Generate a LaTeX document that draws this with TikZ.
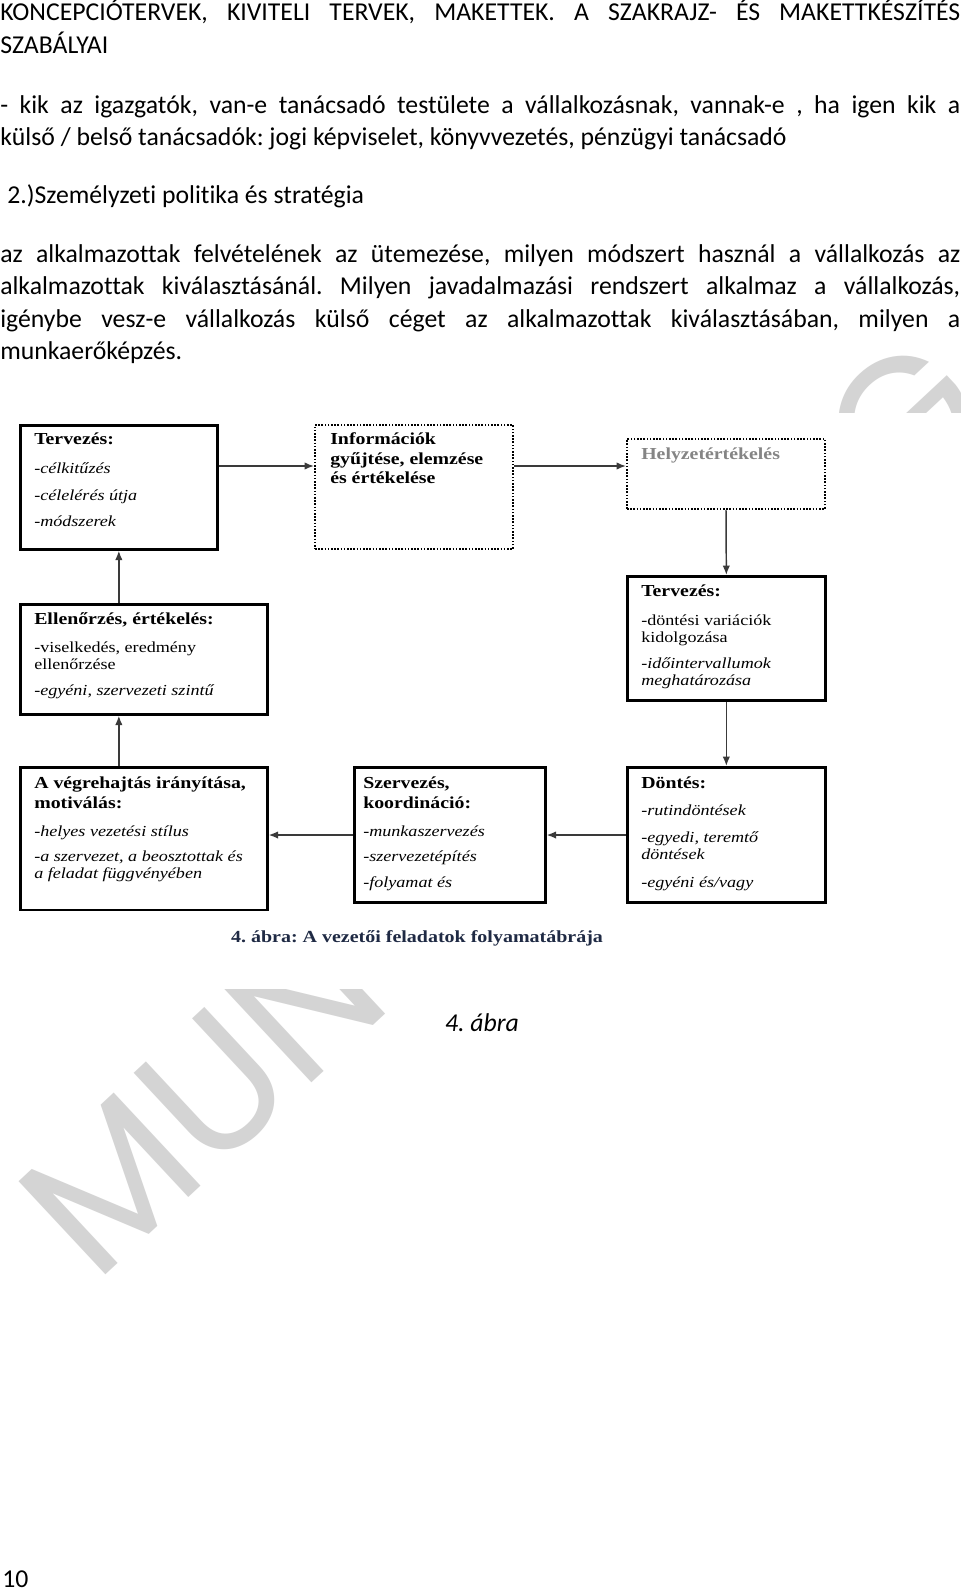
\documentclass[tikz,border=0pt]{standalone}
\usepackage{fontspec}
\setmainfont{Carlito}[Ligatures={NoCommon}]
\newfontfamily\dserif[FakeStretch=1.18]{Liberation Serif}
\newfontfamily\wmfont{Poppins}
\usetikzlibrary{arrows.meta,calc}
\definecolor{wmc}{HTML}{D4D4D4}
\definecolor{capc}{HTML}{1F2A44}
\definecolor{arrc}{HTML}{3A3A3A}
\definecolor{hgray}{HTML}{858585}
\frenchspacing
\tikzset{
  body/.style={font=\fontsize{19.3pt}{23pt}\selectfont, inner sep=0pt, anchor=base west},
  sbox/.style={draw=black, line width=2pt, rectangle, inner sep=0pt, anchor=north west},
  dbox/.style={draw=black, line width=1.5pt, dash pattern=on 1.2pt off 1.2pt, rectangle, inner sep=0pt, anchor=north west},
  hd/.style={font=\dserif\bfseries\fontsize{12.6pt}{14pt}\selectfont, inner sep=0pt, anchor=base west},
  itx/.style={font=\dserif\itshape\fontsize{11.5pt}{13pt}\selectfont, inner sep=0pt, anchor=base west},
  rmx/.style={font=\dserif\fontsize{11.5pt}{13pt}\selectfont, inner sep=0pt, anchor=base west},
  arr/.style={draw=arrc, line width=1.1pt, -{Latex[length=7pt,width=5.5pt]}},
  wmtext/.style={font=\wmfont\fontsize{138pt}{138pt}\selectfont, text=wmc, inner sep=0pt, anchor=base west, rotate=43}
}
\begin{document}
\begin{tikzpicture}[x=0.75pt,y=-0.75pt]
\useasboundingbox (0,0) rectangle (960,1591);
\fill[white] (-5,-5) rectangle (965,1596);
% watermark (only the letters that show outside the figure)
\coordinate (wmo) at (95,1285);
\coordinate (wmg) at (68,1290);
\node[wmtext] (wm1) at (wmo) {MUN};
\node[wmtext] (wm2) at (wmg) {\phantom{MUNKAANYA}G};
\fill[white] (-5,413) rectangle (970,989);
% body text
\node[body] (l1) at (0,21) {\makebox[720pt][s]{KONCEPCIÓTERVEK, KIVITELI TERVEK, MAKETTEK. A SZAKRAJZ- ÉS MAKETTKÉSZÍTÉS}};
\node[body] (l2) at (0,54) {SZABÁLYAI};
\node[body] (l3) at (0,114) {\makebox[720pt][s]{- kik az igazgatók, van-e tanácsadó testülete a vállalkozásnak, vannak-e , ha igen kik a}};
\node[body] (l4) at (0,146) {külső / belső tanácsadók: jogi képviselet, könyvvezetés, pénzügyi tanácsadó};
\node[body] (l5) at (7,204) {2.)Személyzeti politika és stratégia};
\node[body] (l6) at (0,262) {\makebox[720pt][s]{az alkalmazottak felvételének az ütemezése, milyen módszert használ a vállalkozás az}};
\node[body] (l7) at (0,294) {\makebox[720pt][s]{alkalmazottak kiválasztásánál. Milyen javadalmazási rendszert alkalmaz a vállalkozás,}};
\node[body] (l8) at (0,327) {\makebox[720pt][s]{igénybe vesz-e vállalkozás külső céget az alkalmazottak kiválasztásában, milyen a}};
\node[body] (l9) at (0,359) {munkaerőképzés.};
% boxes
\node[sbox, minimum width=147.75pt, minimum height=93pt] (t1) at (19,424) {};
\node[dbox, minimum width=148.5pt, minimum height=93pt] (info) at (314,424) {};
\node[dbox, minimum width=148.5pt, minimum height=52.5pt] (hely) at (626,438) {};
\node[sbox, minimum width=148.5pt, minimum height=93pt] (t2) at (626,575) {};
\node[sbox, minimum width=185.25pt, minimum height=82.5pt] (ell) at (19,603) {};
\node[sbox, minimum width=185.25pt, minimum height=107pt] (veg) at (19,766) {};
\node[sbox, minimum width=143.25pt, minimum height=101.5pt] (szerv) at (353,766) {};
\node[sbox, minimum width=148.5pt, minimum height=101.5pt] (dont) at (626,766) {};
% box texts
\node[hd] (t1h) at (34,444) {Tervezés:};
\node[itx] (t1a) at (34,473) {-célkitűzés};
\node[itx] (t1b) at (34,500) {-célelérés útja};
\node[itx] (t1c) at (34,526) {-módszerek};
\node[hd] (ia) at (330,444) {Információk};
\node[hd] (ib) at (330,464) {gyűjtése, elemzése};
\node[hd] (ic) at (330,483) {és értékelése};
\node[hd, text=hgray] (ha) at (641,459) {Helyzetértékelés};
\node[hd] (t2h) at (641,596) {Tervezés:};
\node[rmx] (t2a) at (641,625) {-döntési variációk};
\node[rmx] (t2b) at (641,642) {kidolgozása};
\node[itx] (t2c) at (641,668) {-időintervallumok};
\node[itx] (t2d) at (641,685) {meghatározása};
\node[hd] (eh) at (34,624) {Ellenőrzés, értékelés:};
\node[rmx] (ea) at (34,652) {-viselkedés, eredmény};
\node[rmx] (eb) at (34,669) {ellenőrzése};
\node[itx] (ec) at (34,695) {-egyéni, szervezeti szintű};
\node[hd] (vh1) at (34,788) {A végrehajtás irányítása,};
\node[hd] (vh2) at (34,808) {motiválás:};
\node[itx] (va) at (34,836) {-helyes vezetési stílus};
\node[itx] (vb) at (34,861) {-a szervezet, a beosztottak és};
\node[itx] (vc) at (34,878) {a feladat függvényében};
\node[hd] (sh1) at (363,788) {Szervezés,};
\node[hd] (sh2) at (363,808) {koordináció:};
\node[itx] (sa) at (363,836) {-munkaszervezés};
\node[itx] (sb) at (363,861) {-szervezetépítés};
\node[itx] (sc) at (363,887) {-folyamat és};
\node[hd] (dh) at (641,788) {Döntés:};
\node[itx] (da) at (641,815) {-rutindöntések};
\node[itx] (db) at (641,842) {-egyedi, teremtő};
\node[itx] (dc) at (641,859) {döntések};
\node[itx] (dd) at (641,887) {-egyéni és/vagy};
% connectors
\coordinate (r1) at (0,466);
\draw[arr] (t1.east |- r1) -- (info.west |- r1);
\draw[arr] (info.east |- r1) -- (hely.west |- r1);
\draw[arr] (hely.south) -- (t2.north);
\draw[arr] (t2.south) -- (dont.north);
\draw[arr] (dont.west) -- (szerv.east);
\draw[arr] (szerv.west) -- (veg.east |- szerv.west);
\draw[arr] (veg.north -| t1.south) -- (ell.south -| t1.south);
\draw[arr] (ell.north -| t1.south) -- (t1.south);
% captions
\node[font=\dserif\bfseries\fontsize{12.7pt}{14pt}\selectfont, text=capc, inner sep=0pt, anchor=base] (cap) at (417,942) {4. ábra: A vezetői feladatok folyamatábrája};
\node[font=\itshape\fontsize{19.3pt}{23pt}\selectfont, inner sep=0pt, anchor=base] (abra) at (482,1031) {4. ábra};
\node[body] (pg) at (2,1587) {10};
\end{tikzpicture}
\end{document}
